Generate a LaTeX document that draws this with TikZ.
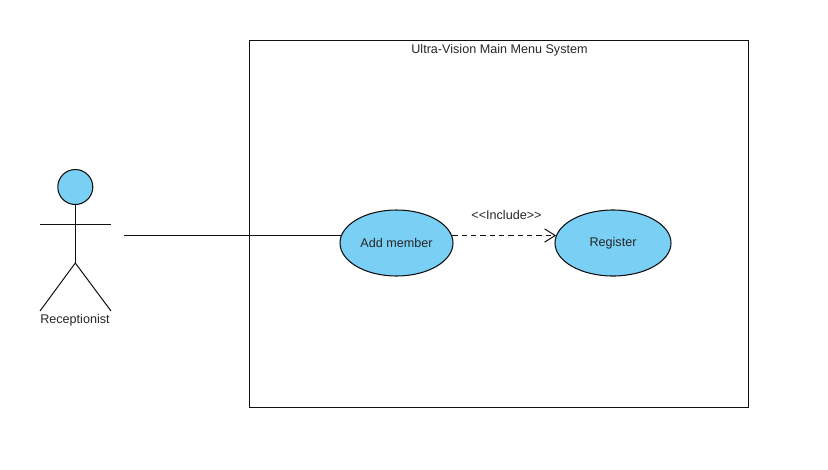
\documentclass[tikz,border=0pt]{standalone}
\usepackage{fontspec}
\setmainfont{Liberation Sans}
\usetikzlibrary{shapes.geometric,arrows.meta}
\definecolor{ucblue}{HTML}{7ACFF5}
\definecolor{ink}{HTML}{101010}
\tikzset{
  usecase/.style={ellipse,draw=ink,fill=ucblue,line width=0.8pt,minimum height=49.5pt,inner sep=0pt,font=\fontsize{9.45}{11}\selectfont,text=black!85},
  label text/.style={font=\fontsize{9.45}{11}\selectfont,text=black!85,inner sep=0pt},
  line/.style={draw=ink,line width=0.75pt},
  head/.style={circle,draw=ink,fill=ucblue,line width=0.8pt,minimum size=26.25pt,inner sep=0pt},
  sysbox/.style={rectangle,draw=ink,line width=0.8pt,minimum width=374.25pt,minimum height=275.25pt,inner sep=0pt}
}
\begin{document}
\begin{tikzpicture}[x=0.75pt,y=-0.75pt]
\useasboundingbox (0,0) rectangle (828,469);
\node[sysbox] (sys) at (499,224) {};
\node[label text] (title) at (499.5,50) {Ultra-Vision Main Menu System};
\node[head] (hd) at (75.3,187) {};
\coordinate (crotch) at (75.3,263);
\coordinate (armL) at (40,224.5);
\coordinate (armR) at (111,224.5);
\coordinate (footL) at (40,311);
\coordinate (footR) at (111,311);
\draw[line] (hd.south) -- (crotch);
\draw[line] (armL) -- (armR);
\draw[line] (footL) -- (crotch) -- (footR);
\node[label text] (actor) at (75,320.5) {Receptionist};
\node[usecase,minimum width=84.75pt] (add) at (396.5,243) {\raisebox{-0.6pt}{Add member}};
\node[usecase,minimum width=87pt] (reg) at (613,243) {\raisebox{-0.6pt}{Register}};
\coordinate (actorend) at (124,235.5);
\draw[line] (actorend) -- (add.172.4 |- actorend);
\draw[line,dash pattern=on 4pt off 3pt,-{Straight Barb[length=8pt,width=10pt,line width=0.75pt]}] (add.7.6 |- actorend) -- (reg.172.4 |- actorend);
\node[label text] (inc) at (506.5,214.5) {<{}<Include>{}>};
\end{tikzpicture}
\end{document}
